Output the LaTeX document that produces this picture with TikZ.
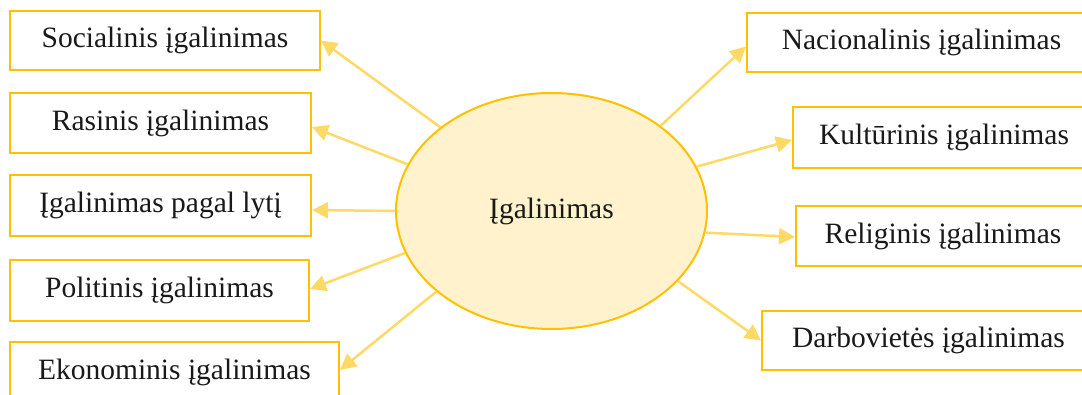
\documentclass[tikz,border=0pt]{standalone}
\usepackage{fontspec}
\setmainfont{Liberation Serif}
\usetikzlibrary{shapes.geometric,arrows.meta}
\definecolor{boxc}{HTML}{FFC000}
\definecolor{arrc}{HTML}{FFD966}
\definecolor{ellf}{HTML}{FFF2CC}
\begin{document}
\begin{tikzpicture}[x=1pt,y=-1pt,
  box/.style={draw=boxc,line width=2pt,fill=white,inner sep=0pt,
    font=\fontsize{29.5}{35}\selectfont,text=black!90},
  arr/.style={draw=arrc,line width=2.5pt,-{Triangle[length=16pt,width=16pt]}}]
\useasboundingbox (0,0) rectangle (1082,395);
\clip (0,0) rectangle (1082,395);
% centre
\node[ellipse,draw=boxc,line width=2pt,fill=ellf,minimum width=311pt,minimum height=236pt,inner sep=0pt,
  font=\fontsize{29.5}{35}\selectfont,text=black!90] (c) at (551.5,211) {Įgalinimas};
% left boxes
\node[box,minimum width=310pt,minimum height=59pt] (s) at (165,40.5) {Socialinis įgalinimas};
\node[box,minimum width=301pt,minimum height=60pt] (r) at (160.5,123) {Rasinis įgalinimas};
\node[box,minimum width=301pt,minimum height=61pt] (l) at (160.5,205.5) {Įgalinimas pagal lytį};
\node[box,minimum width=299pt,minimum height=61pt] (p) at (159.5,290.5) {Politinis įgalinimas};
\node[box,minimum width=329pt,minimum height=60pt] (e) at (174.5,372) {Ekonominis įgalinimas};
% right boxes
\node[box,minimum width=349pt,minimum height=59pt] (n) at (921.5,42.5) {Nacionalinis įgalinimas};
\node[box,minimum width=302pt,minimum height=61pt] (k) at (944,137.5) {Kultūrinis įgalinimas};
\node[box,minimum width=294pt,minimum height=60pt] (g) at (943,236) {Religinis įgalinimas};
\node[box,minimum width=333pt,minimum height=59pt] (d) at (928.5,340.5) {Darbovietės įgalinimas};
% arrows
\draw[arr] (c.143.3) -- (s.east);
\draw[arr] (c.162.6) -- ([yshift=-4pt]r.east);
\draw[arr] (c.180) -- ([yshift=-4.5pt]l.east);
\draw[arr] (c.196.7) -- ([yshift=1.5pt]p.east);
\draw[arr] (c.215.8) -- ([yshift=2pt]e.east);
\draw[arr] (c.38.4) -- ([yshift=-4pt]n.west);
\draw[arr] (c.17.1) -- ([yshift=-2.5pt]k.west);
\draw[arr] (c.352.7) -- ([yshift=-1pt]g.west);
\draw[arr] (c.331.8) -- (d.west);
\end{tikzpicture}
\end{document}
